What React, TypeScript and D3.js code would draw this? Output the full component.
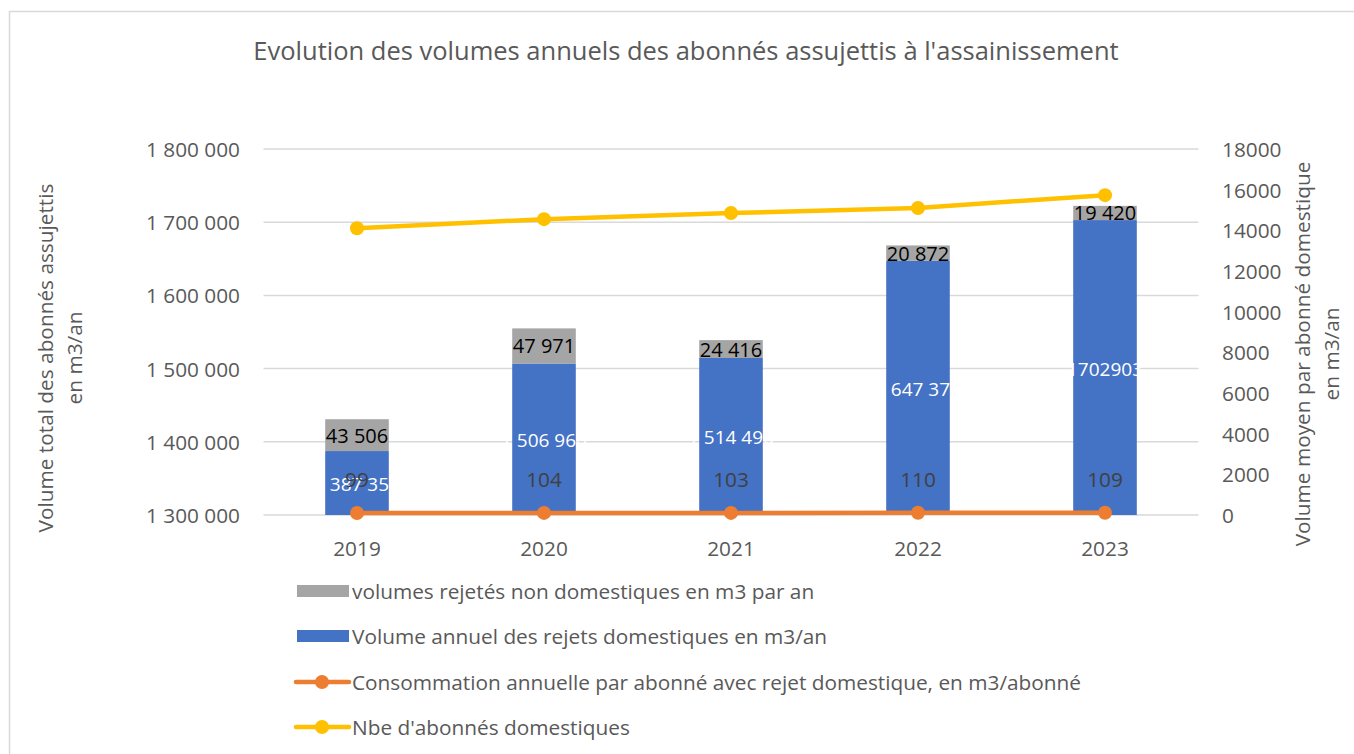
import * as d3 from 'd3';

// chart data
const years = ['2019', '2020', '2021', '2022', '2023'];
const domesticVolume = [1387350, 1506960, 1514496, 1647370, 1702903];
const domesticLabels = ['1 387 350', '1 506 960', '1 514 496', '1 647 370', '1702903'];
const nonDomesticVolume = [43506, 47971, 24416, 20872, 19420];
const consoPerSubscriber = [99, 104, 103, 110, 109];
const nbSubscribers = [14100, 14550, 14850, 15100, 15730];
const leftTicks = [1300000, 1400000, 1500000, 1600000, 1700000, 1800000];
const rightTicks = [0, 2000, 4000, 6000, 8000, 10000, 12000, 14000, 16000, 18000];

const W = 1354;
const H = 754;
const FONT = '"Open Sans", Lato, sans-serif';
const GREY_TEXT = '#595959';
const FS = 20.8;

const fmtSpace = (v: number) => d3.format(',')(v).replace(/,/g, ' ');

export default function App() {
  const x = d3.scaleBand<string>().domain(years).range([263.5, 1198.5]).paddingInner(0.66).paddingOuter(0.33);
  const yL = d3.scaleLinear().domain([1300000, 1800000]).range([515, 149]);
  const yR = d3.scaleLinear().domain([0, 18000]).range([515, 149]);
  const cx = (i: number) => (x(years[i]) as number) + x.bandwidth() / 2;

  const orangePath = d3.line<number>().x((_, i) => cx(i)).y(d => yR(d))(consoPerSubscriber) as string;
  const yellowPath = d3.line<number>().x((_, i) => cx(i)).y(d => yR(d))(nbSubscribers) as string;

  const legendItems = [
    { label: 'volumes rejetés non domestiques en m3 par an', color: '#A5A5A5', kind: 'bar', y: 591 },
    { label: 'Volume annuel des rejets domestiques en m3/an', color: '#4472C4', kind: 'bar', y: 636 },
    { label: 'Consommation annuelle par abonné avec rejet domestique, en m3/abonné', color: '#ED7D31', kind: 'line', y: 682 },
    { label: "Nbe d'abonnés domestiques", color: '#FFC000', kind: 'line', y: 727 },
  ];

  return (
    <svg width={W} height={H} style={{ position: 'absolute', left: 0, top: 0, background: '#fff' }} fontFamily={FONT}>
      <rect x={9.5} y={11.5} width={1400} height={800} fill="#fff" stroke="#d9d9d9" strokeWidth={1.5} />

      <text x={686} y={50} textAnchor="middle" dominantBaseline="central" fontSize={25.5} fill={GREY_TEXT}>
        Evolution des volumes annuels des abonnés assujettis à l'assainissement
      </text>

      {/* gridlines */}
      {leftTicks.map(t => (
        <line key={t} x1={263.5} x2={1198.5} y1={yL(t)} y2={yL(t)} stroke="#d9d9d9" strokeWidth={1.5} />
      ))}

      {/* left ticks */}
      {leftTicks.map(t => (
        <text key={t} x={240} y={yL(t)} textAnchor="end" dominantBaseline="central" fontSize={FS} fill={GREY_TEXT}>
          {fmtSpace(t)}
        </text>
      ))}
      {/* right ticks */}
      {rightTicks.map(t => (
        <text key={t} x={1222} y={yR(t)} dominantBaseline="central" fontSize={FS} fill={GREY_TEXT}>
          {t}
        </text>
      ))}

      {/* axis titles */}
      <text transform="translate(45,358) rotate(-90)" textAnchor="middle" dominantBaseline="central" fontSize={FS} fill={GREY_TEXT}>
        Volume total des abonnés assujettis
      </text>
      <text transform="translate(74,358) rotate(-90)" textAnchor="middle" dominantBaseline="central" fontSize={FS} fill={GREY_TEXT}>
        en m3/an
      </text>
      <text transform="translate(1302,354) rotate(-90)" textAnchor="middle" dominantBaseline="central" fontSize={FS} fill={GREY_TEXT}>
        Volume moyen par abonné domestique
      </text>
      <text transform="translate(1331,354) rotate(-90)" textAnchor="middle" dominantBaseline="central" fontSize={FS} fill={GREY_TEXT}>
        en m3/an
      </text>

      {/* x labels */}
      {years.map((yv, i) => (
        <text key={yv} x={cx(i)} y={548} textAnchor="middle" dominantBaseline="central" fontSize={FS} fill={GREY_TEXT}>
          {yv}
        </text>
      ))}

      {/* stacked bars */}
      {years.map((yv, i) => {
        const top1 = yL(domesticVolume[i]);
        const top2 = yL(domesticVolume[i] + nonDomesticVolume[i]);
        return (
          <g key={yv}>
            <rect x={x(yv)} y={top1} width={x.bandwidth()} height={yL(1300000) - top1} fill="#4472C4" />
            <rect x={x(yv)} y={top2} width={x.bandwidth()} height={top1 - top2} fill="#A5A5A5" />
          </g>
        );
      })}

      {/* bar labels */}
      {years.map((yv, i) => {
        const top1 = yL(domesticVolume[i]);
        const top2 = yL(domesticVolume[i] + nonDomesticVolume[i]);
        return (
          <g key={'l' + yv}>
            <text x={cx(i)} y={(top1 + yL(1300000)) / 2 + 1} textAnchor="middle" dominantBaseline="central" fontSize={19} fill="#fff">
              {domesticLabels[i]}
            </text>
            <text x={cx(i)} y={(top1 + top2) / 2} textAnchor="middle" dominantBaseline="central" fontSize={20} fill="#000">
              {fmtSpace(nonDomesticVolume[i])}
            </text>
          </g>
        );
      })}

      {/* lines */}
      <path d={orangePath} fill="none" stroke="#ED7D31" strokeWidth={4.5} strokeLinecap="round" />
      {consoPerSubscriber.map((v, i) => (
        <circle key={'o' + i} cx={cx(i)} cy={yR(v)} r={7} fill="#ED7D31" />
      ))}
      <path d={yellowPath} fill="none" stroke="#FFC000" strokeWidth={4.5} strokeLinecap="round" />
      {nbSubscribers.map((v, i) => (
        <circle key={'y' + i} cx={cx(i)} cy={yR(v)} r={7} fill="#FFC000" />
      ))}

      {/* orange labels */}
      {consoPerSubscriber.map((v, i) => (
        <text key={'ol' + i} x={cx(i)} y={yR(v) - 34} textAnchor="middle" dominantBaseline="central" fontSize={FS} fill="#404040">
          {v}
        </text>
      ))}

      {/* legend */}
      {legendItems.map(item => (
        <g key={item.label}>
          {item.kind === 'bar' ? (
            <rect x={297} y={item.y - 6} width={52} height={12} fill={item.color} />
          ) : (
            <g>
              <line x1={296} x2={349} y1={item.y} y2={item.y} stroke={item.color} strokeWidth={4.5} strokeLinecap="round" />
              <circle cx={322} cy={item.y} r={7} fill={item.color} />
            </g>
          )}
          <text x={352} y={item.y} dominantBaseline="central" fontSize={FS} fill={GREY_TEXT}>
            {item.label}
          </text>
        </g>
      ))}
    </svg>
  );
}
